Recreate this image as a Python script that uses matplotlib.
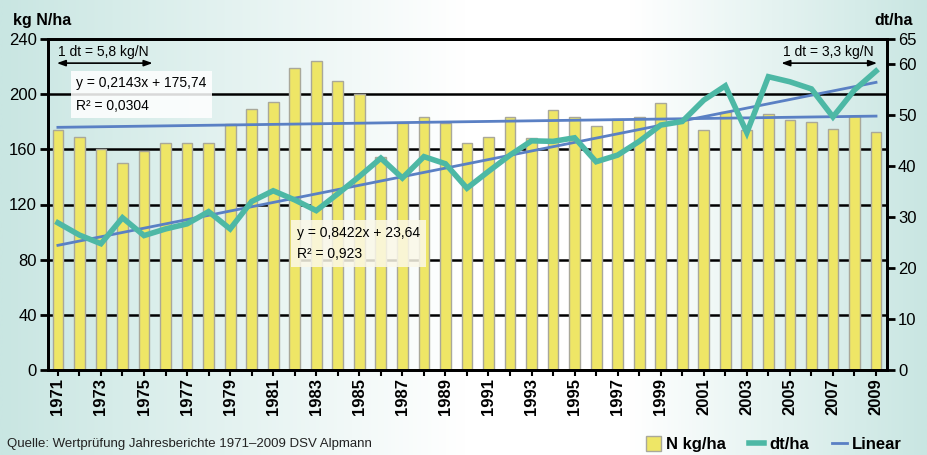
import numpy as np
import matplotlib
matplotlib.use("Agg")
import matplotlib.pyplot as plt
from matplotlib.colors import LinearSegmentedColormap

# --- data ---
years = list(range(1971, 2010))
n_kg_ha = [174.0, 169.0, 160.3, 150.1, 158.8, 164.6, 164.6, 164.6, 178.4, 189.3,
           194.3, 219.0, 224.0, 209.6, 200.0, 154.7, 179.3, 183.7, 179.3, 164.4,
           168.7, 183.7, 168.2, 188.5, 183.5, 177.0, 182.0, 183.5, 193.6, 182.0,
           174.0, 187.0, 174.0, 185.6, 181.3, 179.8, 174.8, 184.2, 172.6]
dt_ha = [28.9, 26.5, 24.8, 29.9, 26.4, 27.7, 28.7, 31.1, 27.7, 33.1,
         35.2, 33.4, 31.3, 34.6, 38.0, 41.6, 37.7, 41.9, 40.5, 35.7,
         39.0, 42.2, 45.0, 44.9, 45.6, 40.9, 42.2, 44.9, 48.1, 48.8,
         53.0, 55.8, 46.6, 57.6, 56.6, 55.2, 49.7, 55.0, 58.7]

# trendline equations as printed in the chart (x = 1..39)
trend_n = (0.2143, 175.74)
trend_dt = (0.8422, 23.64)

left_ticks = [0, 40, 80, 120, 160, 200, 240]
right_ticks = [0, 10, 20, 30, 40, 50, 60, 65]

FONT = ["Liberation Sans", "DejaVu Sans"]
plt.rcParams["font.family"] = FONT

bar_col = "#eee666"
teal = "#4db8a5"
blue = "#5a80c4"

fig = plt.figure(figsize=(9.28, 4.55), dpi=100)

# background gradient
bg = fig.add_axes([0, 0, 1, 1])
bg.set_zorder(-1)
cmap = LinearSegmentedColormap.from_list(
    "bg", [(0, "#c9e6e2"), (0.5, "#ffffff"), (0.68, "#ffffff"), (1, "#c9e6e2")])
bg.imshow(np.linspace(0, 1, 512).reshape(1, -1), aspect="auto", cmap=cmap,
          extent=[0, 1, 0, 1])
bg.axis("off")

ax = fig.add_axes([48 / 928, 85 / 455, 839 / 928, 331 / 455])
ax.patch.set_alpha(0)
x = np.array(years)
idx = np.arange(1, len(years) + 1)

bars = ax.bar(x, n_kg_ha, width=0.5, color=bar_col, edgecolor="#a9a89a",
              linewidth=1, zorder=2)
lin_n, = ax.plot(x, trend_n[0] * idx + trend_n[1], color=blue, lw=2, zorder=3)

ax.set_xlim(1970.54, 2009.51)
ax.set_ylim(0, 240)
ax.set_yticks(left_ticks)
ax.set_axisbelow(True)
ax.yaxis.grid(True, color="black", lw=1.8)
for s in ax.spines.values():
    s.set_linewidth(2)
    s.set_color("black")
ax.tick_params(axis="y", direction="out", length=6, width=2, labelsize=12, pad=2)
ax.set_xticks(x)
ax.set_xticklabels([str(y) if y % 2 else "" for y in years], rotation=90,
                   fontweight="bold", fontsize=12)
ax.tick_params(axis="x", direction="out", length=4, width=1.5, pad=2)

ax2 = ax.twinx()
ax2.set_ylim(0, 65)
ax2.set_yticks(right_ticks)
ax2.tick_params(axis="y", direction="out", length=6, width=2, labelsize=12, pad=2)
for s in ax2.spines.values():
    s.set_linewidth(2)
line_dt, = ax2.plot(x, dt_ha, color=teal, lw=4, solid_joinstyle="miter", zorder=4)
ax2.plot(x, trend_dt[0] * idx + trend_dt[1], color=blue, lw=2, zorder=3)

# annotations
arrow = dict(arrowstyle="<|-|>,head_length=0.5,head_width=0.18", color="black",
             lw=1.2, shrinkA=0, shrinkB=0)
ax.annotate("", xy=(1970.95, 222.5), xytext=(1975.4, 222.5), arrowprops=arrow)
ax.text(1973.1, 230.5, "1 dt = 5,8 kg/N", ha="center", va="center", fontsize=10)
ax.annotate("", xy=(2004.6, 222.5), xytext=(2009.05, 222.5), arrowprops=arrow)
ax.text(2006.8, 230.5, "1 dt = 3,3 kg/N", ha="center", va="center", fontsize=10)

ax.text(1971.85, 199.8, "y = 0,2143x + 175,74\nR² = 0,0304", ha="left", va="center",
        fontsize=10, linespacing=1.75, zorder=6,
        bbox=dict(boxstyle="square,pad=0.4", fc="white", ec="none", alpha=0.85))
ax.text(1982.1, 91.7, "y = 0,8422x + 23,64\nR² = 0,923", ha="left", va="center",
        fontsize=10, linespacing=1.65, zorder=6,
        bbox=dict(boxstyle="square,pad=0.4", fc="#fbf8e8", ec="none", alpha=0.85))

# axis titles
fig.text(13 / 928, 1 - 25 / 455, "kg N/ha", fontsize=11.5, fontweight="bold",
         va="baseline", ha="left")
fig.text(913 / 928, 1 - 25 / 455, "dt/ha", fontsize=11.5, fontweight="bold",
         va="baseline", ha="right")

fig.text(7 / 928, 1 - 444 / 455, "Quelle: Wertprüfung Jahresberichte 1971–2009 DSV Alpmann",
         fontsize=9.5, va="center", ha="left", color="#222222")

fig.legend([bars, line_dt, lin_n], ["N kg/ha", "dt/ha", "Linear"], loc="center right",
           bbox_to_anchor=(902 / 928, 1 - 444 / 455), ncol=3, frameon=False,
           prop=dict(family=FONT, weight="bold", size=12), handlelength=0.9,
           handleheight=1.0, handletextpad=0.3, columnspacing=1.4, borderpad=0,
           borderaxespad=0)

fig.savefig("out.png", dpi=100)
